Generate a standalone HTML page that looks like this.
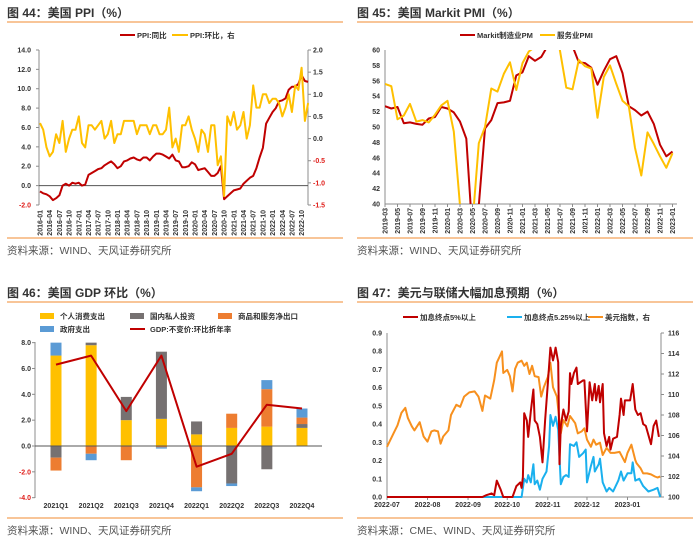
<!DOCTYPE html>
<html><head><meta charset="utf-8"><style>
body{margin:0;background:#fff;}
svg{display:block;font-family:"Liberation Sans","Noto Sans CJK SC",sans-serif;}
.t{font-size:12px;font-weight:bold;fill:#333}
.s{font-size:10.5px;fill:#555}
.k{font-size:7px;font-weight:bold;fill:#333}
.l{font-size:7.5px;font-weight:bold;fill:#333}
</style></head><body>
<svg id="c" width="700" height="544" viewBox="0 0 700 544">
<defs><clipPath id="clip2"><rect x="385" y="50" width="292" height="154"/></clipPath></defs>
</svg>
<script>
// ---- Panel 1 data: US PPI ----
const ppiYoY=[-0.6,-0.8,-0.9,-1.1,-1.5,-1.3,-1.0,0.0,0.2,0.0,0.3,0.2,
0.3,0.0,0.1,1.1,1.3,1.5,1.7,1.8,2.1,2.3,2.5,2.2,
1.8,2.0,2.5,2.6,2.8,2.9,2.7,2.6,2.9,2.9,2.6,3.0,
3.3,3.3,3.2,3.0,2.8,3.2,2.6,2.5,1.9,1.9,2.0,2.4,
2.2,1.6,1.7,1.8,1.4,1.0,1.0,1.3,2.0,-1.4,-1.1,-0.8,
-0.5,-0.4,-0.3,0.2,0.5,0.8,1.0,1.8,2.9,3.9,6.4,7.0,
7.6,8.0,8.7,8.8,9.0,9.9,10.2,10.2,10.5,11.4,10.8,10.7];
const ppiMoM=[0.35,0.2,-0.2,-0.4,-0.3,0.1,-0.1,0.4,-0.3,0.0,0.2,0.2,
0.5,-0.1,-0.2,0.3,0.3,0.2,0.3,0.4,0.0,0.1,0.4,-0.1,
0.1,0.1,0.4,0.4,0.4,0.4,0.1,0.3,0.3,0.3,0.1,0.3,
0.3,0.1,0.1,0.2,0.7,-0.2,0.0,-0.3,0.3,0.3,0.5,0.2,
0.0,-0.3,0.2,0.1,-0.3,0.3,0.3,-0.6,-0.4,-1.3,0.5,0.3,
0.6,0.2,0.3,0.6,0.0,0.3,1.2,0.7,0.7,1.0,1.0,0.8,
0.9,0.9,0.8,0.5,0.7,1.0,0.6,1.2,1.1,1.6,0.4,0.8];
const ppiLeftTicks=[14,12,10,8,6,4,2,0,-2];
const ppiRightTicks=[2,1.5,1,0.5,0,-0.5,-1,-1.5];
// ---- Panel 2 data: PMI ----
const pmiMfg=[52.7,52.4,52.6,50.5,50.6,50.4,50.3,51.1,51.3,52.6,52.4,51.9,50.7,48.5,36.1,39.8,49.8,50.9,53.1,53.2,53.4,56.7,57.1,59.2,58.6,59.1,60.5,62.0,62.1,63.4,60.5,58.4,58.3,57.7,55.5,57.3,58.8,59.2,57.0,52.7,52.2,51.5,52.0,50.4,47.7,46.2,46.8];
const pmiSvc=[55.6,55.3,51.0,51.5,53.0,50.7,50.9,50.6,51.6,52.8,53.4,49.4,39.8,26.7,37.5,47.9,50.0,55.0,54.6,56.9,58.4,54.8,58.3,59.8,60.4,62.2,64.7,64.6,59.9,55.1,54.9,58.7,57.9,57.6,51.2,56.5,58.0,55.6,53.4,52.7,47.3,43.7,49.3,47.8,46.2,44.7,46.6];
const pmiTicks=[60,58,56,54,52,50,48,46,44,42,40];
// ---- Panel 3 data: GDP ----
const gdpCats=["2021Q1","2021Q2","2021Q3","2021Q4","2022Q1","2022Q2","2022Q3","2022Q4"];
const gdpCons=[7.0,7.8,2.0,2.1,0.9,1.4,1.5,1.4];
const gdpInv=[-0.9,0.2,1.8,5.2,1.0,-2.9,-1.8,0.3];
const gdpNx=[-1.0,-0.6,-1.1,-0.1,-3.2,1.1,2.9,0.5];
const gdpGov=[1.0,-0.5,0.0,-0.1,-0.3,-0.2,0.7,0.7];
const gdpRate=[6.3,7.0,2.7,7.0,-1.6,-0.6,3.2,2.9];
const gdpTicks=[8,6,4,2,0,-2,-4];
// ---- Panel 4 data (days since 2022-07-01) ----
const usdDays=[0,5,8,11,14,16,19,21,25,28,31,34,36,39,41,43,47,49,53,56,59,63,67,70,73,75,79,82,84,88,89,92,94,96,98,100,103,105,107,109,111,113,116,118,120,123,125,127,130,133,135,138,140,144,146,149,151,153,156,158,160,163,165,168,171,174,178,182,184,187,190,191,194,196,199,202,205,207,209];
const usdVals=[104.9,106.2,107,108.2,108.7,107.7,106.9,106.5,107.3,105.9,105.4,106.4,106.5,106.4,105.2,105.9,106.5,108,109,108.8,109.8,110.2,110.3,109.8,108.4,109.9,109.6,111.4,113.1,114.2,112.1,112.4,111.8,110.3,112.5,113.1,113.3,112.8,113.1,112.0,112.8,111.8,111.7,109.8,110.7,111.7,113.1,110.7,109.8,106.2,107.5,106.9,107.9,107.2,106.2,106.4,106.7,105.6,104.9,105.6,105.1,105.3,104.1,104.8,104.3,104.3,104.4,103.4,104.3,105.1,103.6,103.3,102.8,102.3,102.3,102.2,102.0,101.9,102.0];
const p5Days=[0,73,76,80,82,84,87,89,96,99,102,103,104,105,107,108,110,112,113,115,117,119,121,123,125,127,128,129,131,132,133,135,137,139,140,141,143,145,146,150,151,153,155,157,159,160,162,163,165,166,168,170,171,173,176,178,179,181,182,186,188,190,192,194,196,198,202,204,206,208];
const p5Vals=[0,0,0.01,0.02,0.01,0.09,0.04,0,0,0.06,0.08,0.05,0.11,0.46,0.42,0.33,0.47,0.59,0.42,0.40,0.33,0.19,0.42,0.62,0.82,0.75,0.78,0.82,0.74,0.18,0.39,0.48,0.42,0.47,0.68,0.62,0.68,0.71,0.62,0.64,0.64,0.36,0.63,0.53,0.62,0.53,0.61,0.52,0.62,0.35,0.28,0.33,0.26,0.32,0.33,0.45,0.54,0.45,0.53,0.53,0.62,0.48,0.45,0.46,0.40,0.39,0.29,0.39,0.42,0.33];
const p525Days=[0,103,105,107,108,110,112,113,115,117,119,122,124,125,127,129,131,133,135,137,139,140,143,145,147,150,152,153,156,158,159,162,163,165,168,170,173,177,179,181,184,187,188,190,193,196,200,204,207,209];
const p525Vals=[0,0,0.10,0.08,0.12,0.08,0.18,0.07,0.09,0.04,0.10,0.14,0.28,0.45,0.39,0.44,0.37,0.07,0.11,0.12,0.11,0.29,0.28,0.30,0.22,0.24,0.26,0.08,0.17,0.22,0.14,0.18,0.21,0.08,0.03,0.05,0.03,0.09,0.14,0.09,0.13,0.13,0.19,0.09,0.10,0.06,0.03,0.04,0.05,0];
const p4LeftTicks=[0,0.1,0.2,0.3,0.4,0.5,0.6,0.7,0.8,0.9];
const p4RightTicks=[100,102,104,106,108,110,112,114,116];
const p4Months=["2022-07","2022-08","2022-09","2022-10","2022-11","2022-12","2023-01"];
const p4MonthDays=[0,31,62,92,123,153,184];

const NS="http://www.w3.org/2000/svg";
const svg=document.getElementById('c');
function mk(tag,attrs,parent){const e=document.createElementNS(NS,tag);for(const k in attrs)e.setAttribute(k,attrs[k]);(parent||svg).appendChild(e);return e;}
function txt(x,y,s,cls,anchor,fill,name,extra){const e=mk('text',Object.assign({x:x,y:y,class:cls,'text-anchor':anchor||'start'},extra||{}));if(fill)e.style.fill=fill;e.textContent=s;


return e;}
function ln(x1,y1,x2,y2,c,w,name){const e=mk('line',{x1:x1,y1:y1,x2:x2,y2:y2,stroke:c,'stroke-width':w||1});


return e;}
function poly(pts,c,w,name,clip){const e=mk('polyline',{points:pts.map(p=>p[0].toFixed(1)+','+p[1].toFixed(1)).join(' '),fill:'none',stroke:c,'stroke-width':w,'stroke-linejoin':'round'});if(clip)e.setAttribute('clip-path',clip);


return e;}
function rect(x,y,w,h,c,name){const e=mk('rect',{x:x,y:y,width:w,height:h,fill:c});


return e;}
const RED='#C00000',YEL='#FFC000',GRAY='#767171',ORG='#ED7D31',BLU='#5B9BD5',CYAN='#1AB0EE',ORG4='#F7901E',AX='#8c8c8c',HL='#F4A25A',NEG='#e0201c';

function frame(x0,title,titleY,lineY,botY,src){
  txt(x0+7,titleY,title,'t','start',null,'panel-title');
  ln(x0+7,lineY,x0+343,lineY,HL,1.3,'title-rule');
  ln(x0+7,botY,x0+343,botY,HL,1.3,'source-rule');
  txt(x0+7,botY+16,src,'s','start',null,'source-note');
}
frame(0,'图 44：美国 PPI（%）',17,22,238,'资料来源：WIND、天风证券研究所');
frame(350,'图 45：美国 Markit PMI（%）',17,22,238,'资料来源：WIND、天风证券研究所');
frame(0,'图 46：美国 GDP 环比（%）',297,302,518,'资料来源：WIND、天风证券研究所');
frame(350,'图 47：美元与联储大幅加息预期（%）',297,302,518,'资料来源：CME、WIND、天风证券研究所');

// ---- Panel 1 ----
const p1x=i=>40+i*3.23, p1yL=v=>185.6-v*9.6875, p1yR=v=>50+(2-v)*44.29;
ln(39,50,39,205,AX,1,'ppi-left-axis');
ln(308,50,308,205,AX,1,'ppi-right-axis');
ln(39,p1yL(0),308,p1yL(0),'#555',1,'ppi-zero-line');
ppiLeftTicks.forEach(v=>{txt(31,p1yL(v)+2.5,v.toFixed(1),'k','end',v<0?NEG:null,'ppi-left-tick');ln(36,p1yL(v),39,p1yL(v),AX,1,'ppi-left-tickmark');});
ppiRightTicks.forEach(v=>{txt(313,p1yR(v)+2.5,v.toFixed(1),'k','start',v<0?NEG:null,'ppi-right-tick');ln(308,p1yR(v),311,p1yR(v),AX,1,'ppi-right-tickmark');});
for(let i=0;i<ppiYoY.length;i+=3){const y=2016+Math.floor(i/12),m=i%12+1;txt(0,0,y+'-'+(m<10?'0':'')+m,'k','end',null,'ppi-x-tick',{transform:'translate('+(p1x(i)+2.5)+',210) rotate(-90)'});}
poly(ppiYoY.map((v,i)=>[p1x(i),p1yL(v)]),RED,2,'ppi-yoy-line');
poly(ppiMoM.map((v,i)=>[p1x(i),p1yR(v)]),YEL,2,'ppi-mom-line');
ln(120,35,135,35,RED,2,'legend-ppi-yoy-swatch');txt(137,38,'PPI:同比','l','start',null,'legend-ppi-yoy');
ln(172,35,188,35,YEL,2,'legend-ppi-mom-swatch');txt(190,38,'PPI:环比，右','l','start',null,'legend-ppi-mom');

// ---- Panel 2 ----
const p2x=i=>385+i*6.25, p2y=v=>50+(60-v)*7.7;
ln(385,50,385,204,AX,1,'pmi-left-axis');
ln(385,204,677,204,AX,1,'pmi-x-axis');
pmiTicks.forEach(v=>{txt(380,p2y(v)+2.5,String(v),'k','end',null,'pmi-y-tick');});
for(let i=0;i<pmiMfg.length;i+=2){const mm=i+2,y=2019+Math.floor(mm/12),m=mm%12+1;txt(0,0,y+'-'+(m<10?'0':'')+m,'k','end',null,'pmi-x-tick',{transform:'translate('+(p2x(i)+2.5)+',208) rotate(-90)'});ln(p2x(i),204,p2x(i),207,AX,1,'pmi-x-tickmark');}
poly(pmiMfg.map((v,i)=>[p2x(i),p2y(v)]),RED,2,'pmi-manufacturing-line','url(#clip2)');
poly(pmiSvc.map((v,i)=>[p2x(i),p2y(v)]),YEL,2,'pmi-services-line','url(#clip2)');
ln(460,35,475,35,RED,2,'legend-mfg-swatch');txt(477,38,'Markit制造业PM','l','start',null,'legend-mfg');
ln(540,35,555,35,YEL,2,'legend-svc-swatch');txt(557,38,'服务业PMI','l','start',null,'legend-svc');

// ---- Panel 3 ----
const p3x=i=>56+i*35.14, p3y=v=>446-v*12.92;
ln(35,342,35,498,AX,1,'gdp-y-axis');
gdpTicks.forEach(v=>{txt(31,p3y(v)+2.5,v.toFixed(1),'k','end',v<0?NEG:null,'gdp-y-tick');ln(32,p3y(v),35,p3y(v),AX,1,'gdp-y-tickmark');});
const series=[[gdpCons,YEL,'bar-consumption'],[gdpInv,GRAY,'bar-investment'],[gdpNx,ORG,'bar-net-exports'],[gdpGov,BLU,'bar-government']];
gdpCats.forEach((c,i)=>{let pos=0,neg=0;series.forEach(s=>{const v=s[0][i];if(v>=0){rect(p3x(i)-5.5,p3y(pos+v),11,p3y(pos)-p3y(pos+v),s[1],s[2]);pos+=v;}else{rect(p3x(i)-5.5,p3y(neg),11,p3y(neg+v)-p3y(neg),s[1],s[2]);neg+=v;}});
txt(p3x(i),508,c,'k','middle',null,'gdp-x-tick');});
ln(35,p3y(0),322,p3y(0),'#555',1,'gdp-zero-line');
poly(gdpRate.map((v,i)=>[p3x(i),p3y(v)]),RED,2,'gdp-rate-line');
rect(40,313,14,6,YEL,'legend-consumption-swatch');txt(60,319,'个人消费支出','l','start',null,'legend-consumption');
rect(130,313,14,6,GRAY,'legend-investment-swatch');txt(150,319,'国内私人投资','l','start',null,'legend-investment');
rect(218,313,14,6,ORG,'legend-net-exports-swatch');txt(238,319,'商品和服务净出口','l','start',null,'legend-net-exports');
rect(40,326,14,6,BLU,'legend-government-swatch');txt(60,332,'政府支出','l','start',null,'legend-government');
ln(130,329,145,329,RED,2,'legend-gdp-swatch');txt(150,332,'GDP:不变价:环比折年率','l','start',null,'legend-gdp');

// ---- Panel 4 ----
const p4x=d=>387+d*1.307, p4yL=v=>497-v*182.2, p4yR=v=>497-(v-100)*10.25;
ln(387,333,387,497,AX,1,'p4-left-axis');
ln(661,333,661,497,AX,1,'p4-right-axis');
ln(387,497,661,497,AX,1,'p4-x-axis');
p4LeftTicks.forEach(v=>{txt(382,p4yL(v)+2.5,v.toFixed(1),'k','end',null,'p4-left-tick');});
p4RightTicks.forEach(v=>{txt(668,p4yR(v)+2.5,String(v),'k','start',null,'p4-right-tick');ln(661,p4yR(v),664,p4yR(v),AX,1,'p4-right-tickmark');});
p4Months.forEach((m,i)=>{txt(p4x(p4MonthDays[i]),507,m,'k','middle',null,'p4-x-tick');ln(p4x(p4MonthDays[i]),497,p4x(p4MonthDays[i]),500,AX,1,'p4-x-tickmark');});
poly(usdDays.map((d,i)=>[p4x(d),p4yR(usdVals[i])]),ORG4,2,'usd-index-line');
poly(p525Days.map((d,i)=>[p4x(d),p4yL(p525Vals[i])]),CYAN,2,'hike-525-line');
poly(p5Days.map((d,i)=>[p4x(d),p4yL(p5Vals[i])]),RED,2,'hike-5-line');
ln(403,317,418,317,RED,2,'legend-hike5-swatch');txt(420,320,'加息终点5%以上','l','start',null,'legend-hike5');
ln(507,317,522,317,CYAN,2,'legend-hike525-swatch');txt(524,320,'加息终点5.25%以上','l','start',null,'legend-hike525');
ln(588,317,603,317,ORG4,2,'legend-usd-swatch');txt(605,320,'美元指数，右','l','start',null,'legend-usd');
</script>
</body></html>
